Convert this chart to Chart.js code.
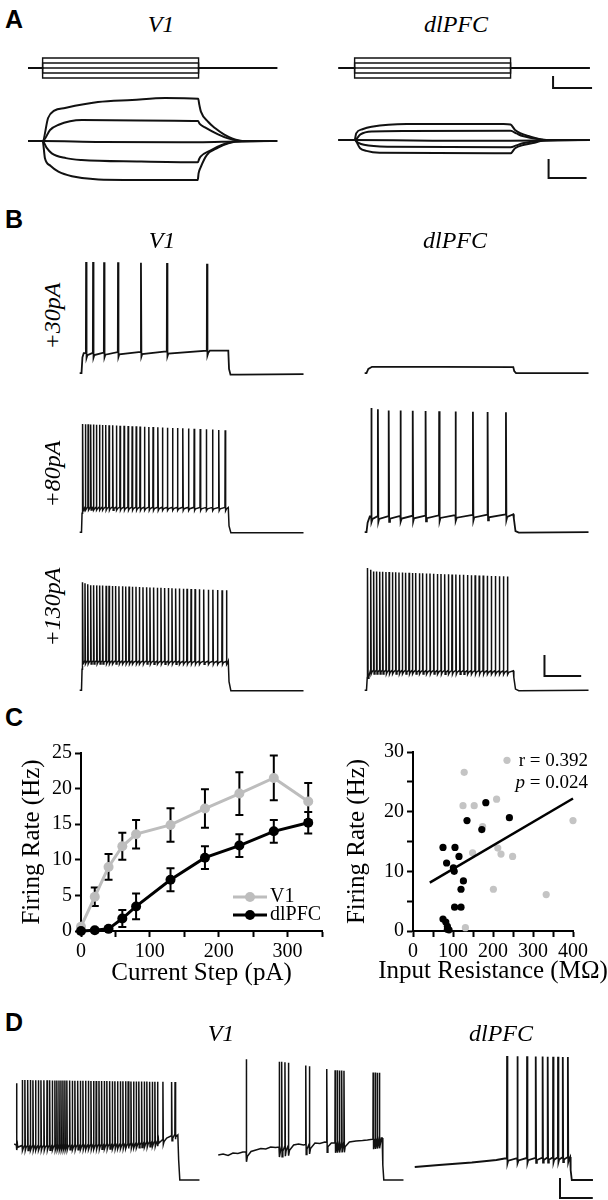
<!DOCTYPE html>
<html>
<head>
<meta charset="utf-8">
<script src="https://cdn.jsdelivr.net/npm/chart.js@4.4.1/dist/chart.umd.min.js"></script>
<style>
  body { margin: 0; background: #fff; width: 608px; height: 1200px; position: relative; overflow: hidden; }
  canvas { position: absolute; }
  .lbl { position: absolute; white-space: nowrap; line-height: 1; color: #000; font-family: "Liberation Serif", "Times New Roman", serif; transform: translate(-50%, -50%); }
  .panel { font-family: "Liberation Sans", Arial, sans-serif; font-weight: bold; font-size: 25px; transform: none; }
  .title { font-style: italic; font-size: 24px; }
  .row { font-style: italic; font-size: 24px; transform: translate(-50%, -50%) rotate(-90deg); }
</style>
</head>
<body>

<canvas id="aV1" width="270" height="150" style="left:20px;top:50px"></canvas>
<canvas id="aDl" width="270" height="150" style="left:332px;top:50px"></canvas>

<canvas id="bV1_30" width="245" height="160" style="left:70px;top:223px"></canvas>
<canvas id="bDl_30" width="245" height="160" style="left:355px;top:223px"></canvas>
<canvas id="bV1_80" width="245" height="160" style="left:70px;top:382px"></canvas>
<canvas id="bDl_80" width="245" height="160" style="left:355px;top:382px"></canvas>
<canvas id="bV1_130" width="245" height="160" style="left:70px;top:540px"></canvas>
<canvas id="bDl_130" width="245" height="160" style="left:355px;top:540px"></canvas>

<canvas id="cRate" width="345" height="252" style="left:0px;top:738px"></canvas>
<canvas id="cScatter" width="268" height="253" style="left:340px;top:737px"></canvas>

<canvas id="dV1a" width="200" height="160" style="left:8px;top:1040px"></canvas>
<canvas id="dV1b" width="200" height="160" style="left:212px;top:1040px"></canvas>
<canvas id="dDl" width="200" height="160" style="left:400px;top:1040px"></canvas>

<div class="lbl panel" style="left:5px;top:7px">A</div>
<div class="lbl title" style="left:161px;top:24px">V1</div>
<div class="lbl title" style="left:456px;top:24px">dlPFC</div>

<div class="lbl panel" style="left:5px;top:207px">B</div>
<div class="lbl title" style="left:162px;top:240px">V1</div>
<div class="lbl title" style="left:455px;top:240px">dlPFC</div>
<div class="lbl row" style="left:52px;top:316px">+30pA</div>
<div class="lbl row" style="left:52px;top:474px">+80pA</div>
<div class="lbl row" style="left:52px;top:607px">+130pA</div>

<div class="lbl panel" style="left:5px;top:705px">C</div>

<div class="lbl panel" style="left:5px;top:1010px">D</div>
<div class="lbl title" style="left:221px;top:1033px">V1</div>
<div class="lbl title" style="left:501px;top:1033px">dlPFC</div>

<script>
// ---------- Panel A: current steps (pA) and voltage responses (ms, mV) ----------
const aStepLevels = [20, 10, 0, -10, -20];
const aStepOn = 0;
const aStepOff = 800;
const aV1Span = [-75, 1203];
const aDlSpan = [-82, 1205];

const aV1Top = [[-75,-70],[0,-70],[28,-57.9],[60,-54],[115,-52.6],[284,-49.5],[459,-48.4],[629,-47.4],[798,-47.8],[804,-51],[812,-54.5],[850,-60],[884,-63.2],[930,-66.5],[972,-68.6],[1038,-70],[1203,-70]];
const aV1Up = [[-75,-70],[0,-70],[38,-64.2],[79,-61.6],[202,-59],[500,-59.2],[797,-59.5],[806,-61],[833,-62.8],[900,-66.5],[951,-68.6],[1030,-70],[1203,-70]];
const aV1Zero = [[-75,-70],[0,-70],[300,-70.5],[800,-70.6],[1000,-70.2],[1203,-70]];
const aV1Down = [[-75,-70],[0,-70],[20,-73.5],[47,-76.5],[120,-79],[200,-80],[500,-80.8],[796,-81.2],[803,-79.5],[810,-78.2],[860,-75],[919,-72.1],[987,-70.3],[1203,-70]];
const aV1Bottom = [[-75,-70],[0,-70],[12,-79.1],[40,-83],[81,-86.1],[150,-88.5],[286,-90.2],[600,-90.5],[796,-90.5],[800,-87],[810,-84],[842,-77.4],[900,-73.5],[953,-71.2],[1021,-70],[1203,-70]];

const aDlTop = [[-82,-69.5],[0,-69.5],[8,-66],[40,-63.8],[87,-62.5],[267,-61],[764,-61],[800,-61.3],[823,-64.2],[903,-67.7],[982,-69.5],[1205,-69.5]];
const aDlUp = [[-82,-69.5],[0,-69.5],[30,-66.5],[87,-65],[267,-64.7],[800,-64.6],[830,-66],[862,-67.4],[962,-69.2],[1000,-69.5],[1205,-69.5]];
const aDlZero = [[-82,-69.5],[0,-69.5],[400,-69.8],[800,-69.8],[1205,-69.5]];
const aDlDown = [[-82,-69.5],[0,-69.5],[20,-71],[48,-72],[167,-73],[800,-73.3],[830,-72.3],[862,-71.2],[962,-69.8],[1205,-69.5]];
const aDlBottom = [[-82,-69.5],[0,-69.5],[28,-73.8],[60,-75.2],[128,-76.2],[800,-76.5],[823,-73.8],[870,-72],[923,-70.9],[982,-69.5],[1205,-69.5]];

const aBarI = [[1018,-16],[1018,-40],[1218,-40]];
const aBarV = [[995,-79.5],[995,-89.5],[1190,-89.5]];

// ---------- Panel B: firing to +30, +80, +130 pA steps ----------
const bV1_30_knots = [[-10,-70],[0,-70],[5,-55],[12,-51],[200,-50],[450,-49.5],[700,-48.5],[800,-48.5],[804,-66],[812,-71.5],[860,-71.5],[1210,-71]];
const bV1_30_spikes = [25, 63, 123, 199, 324, 466, 684];
const bV1_30_peaks = [[0,36],[800,34]];

const bV1_80_knots = [[-10,-70],[0,-70],[3,-52],[7,-46],[800,-46.5],[804,-64],[814,-70.5],[1210,-70.5]];
const bV1_80_spikes = [6.5, 21, 36, 50, 65, 81, 98, 114, 132, 150, 170, 190, 210, 232, 254, 276, 298, 319, 343, 367, 390, 416, 441, 468, 496, 523, 552, 583, 614, 647, 680, 714, 748, 783];
const bV1_80_peaks = [[0,33],[400,30],[800,27]];

const bV1_130_knots = [[-10,-70],[0,-70],[3,-50],[6,-42],[800,-42.5],[804,-62],[814,-70.5],[1210,-70.5]];
const bV1_130_spikes = [6, 19, 34, 50, 66, 83, 99, 115, 134, 150, 168, 186, 204, 223, 241, 259, 277, 297, 315, 335, 355, 373, 393, 413, 433, 453, 473, 493, 513, 533, 555, 575, 597, 619, 642, 666, 691, 716, 741, 766, 790];
const bV1_130_peaks = [[0,33],[50,30],[800,25]];

const bDl_30_knots = [[-10,-70],[0,-70],[10,-66],[30,-64],[400,-64],[800,-64.3],[805,-68],[815,-70],[1210,-70]];

const bDl_80_knots = [[-10,-70],[0,-70],[6,-61],[18,-55],[800,-53],[803,-57],[812,-69],[830,-70.5],[1210,-70]];
const bDl_80_spikes = [26, 62, 121, 185, 252, 322, 396, 485, 580, 660, 760];
const bDl_80_peaks = [[0,49],[100,46],[800,44]];

const bDl_130_knots = [[-10,-70],[0,-70],[4,-58],[9,-51],[800,-51.5],[803,-58],[812,-69],[830,-70.5],[1210,-70]];
const bDl_130_spikes = [6, 23, 39, 55, 72, 88, 106, 123, 141, 159, 177, 195, 213, 232, 250, 268, 288, 306, 326, 346, 366, 386, 406, 426, 446, 466, 487, 508, 529, 550, 571, 592, 614, 636, 658, 680, 702, 724, 746, 768];
const bDl_130_peaks = [[0,47],[40,43],[800,38]];

const bBar = [[970,-36.5],[970,-56.5],[1170,-56.5]];

// ---------- Panel C ----------
const steps = [0, 20, 40, 60, 80, 130, 180, 230, 280, 330];
const rateV1 = [0.6, 4.8, 9.0, 11.9, 13.6, 14.9, 17.2, 19.3, 21.5, 18.2];
const errV1 = [0, 1.3, 1.8, 1.9, 2.0, 2.35, 2.7, 3.0, 3.15, 2.6];
const rateDl = [0, 0.1, 0.3, 1.75, 3.45, 7.2, 10.3, 12.0, 14.0, 15.2];
const errDl = [0, 0, 0.2, 1.2, 1.8, 1.6, 1.6, 1.6, 1.6, 1.5];

const resV1 = [235, 128, 125, 153, 209, 174, 149, 212, 220, 249, 201, 333, 400, 131];
const fireV1 = [28.6, 26.6, 21.0, 21.0, 22.1, 17.5, 13.1, 13.9, 12.9, 12.5, 7.0, 6.1, 18.5, 0.55];
const resDl = [182, 135, 241, 172, 75, 105, 84, 101, 103, 115, 126, 120, 104, 120, 75, 82, 86, 86, 90];
const fireDl = [21.5, 18.5, 19.0, 17.0, 14.0, 14.0, 11.4, 10.6, 10.0, 12.5, 8.4, 7.0, 4.0, 4.0, 2.0, 1.5, 0.8, 0.3, 0.2];
const fitX = [42, 400];
const fitY = [8.1, 22.2];

// ---------- Panel D ----------
const dV1a_knots = [[0,-34],[20,-35.5],[300,-35],[700,-33.5],[880,-31],[930,-28],[985,-24],[998,-25],[1003,-50],[1010,-70],[1130,-70]];
const dV1a_spikes = [14, 49, 65, 82, 98, 114, 130, 147, 163, 181, 200, 216, 232, 248, 260, 273, 285, 297, 309, 321, 338, 354, 370, 387, 403, 419, 435, 452, 468, 484, 500, 517, 533, 549, 565, 582, 598, 614, 630, 647, 663, 679, 695, 712, 728, 744, 760, 777, 793, 809, 826, 842, 858, 874, 907, 960, 981];
const dV1a_peaks = [[0,25],[40,30],[1000,28]];

const dV1b_knots = [[0,-45],[30,-44],[60,-45.5],[90,-43],[120,-43.5],[150,-42],[200,-41.5],[230,-40],[260,-38.5],[290,-39],[320,-37],[350,-37.5],[460,-35],[490,-34],[520,-35],[590,-33],[620,-33.5],[650,-32],[690,-33],[800,-32],[840,-31],[880,-30.5],[910,-30],[995,-28],[1000,-28],[1004,-55],[1010,-70],[1130,-70]];
const dV1b_spikes = [171, 372, 387, 407, 428, 534, 556, 662, 713, 726, 739, 753, 767, 945, 958, 970, 983];
const dV1b_peaks = [[0,53],[400,48],[700,40],[1000,37]];

const dDl_knots = [[52,-57],[200,-55],[400,-52.5],[550,-50],[600,-48.5],[1000,-47],[1003,-60],[1010,-70],[1139,-70]];
const dDl_spikes = [615, 678, 737, 790, 832, 863, 896, 926, 955, 986];
const dDl_peaks = [[600,54],[1000,53]];

const dBar = [[938,-68],[938,-88],[1138,-88]];

// ---------- helpers ----------
const ink = '#111';
const serif = '"Liberation Serif", "Times New Roman", serif';

function pts(arr) {
  return arr.map(([x, y]) => ({x, y}));
}

function lookup(knots, t) {
  if (t <= knots[0][0]) return knots[0][1];
  for (let i = 1; i < knots.length; i++) {
    if (t <= knots[i][0]) {
      const [t0, v0] = knots[i - 1], [t1, v1] = knots[i];
      return v0 + (v1 - v0) * (t - t0) / (t1 - t0);
    }
  }
  return knots[knots.length - 1][1];
}

// subthreshold path + spikes on top of it
function buildTrace(knots, spikes = [], peaks = [[0, 0]], ahp = 0) {
  const out = [];
  knots.forEach(([t, v]) => {
    if (!spikes.some(s => t > s - 1.5 && t < s + 4)) out.push({x: t, y: v});
  });
  spikes.forEach((s, i) => {
    const b = lookup(knots, s);
    out.push({x: s - 1.2, y: b}, {x: s, y: lookup(peaks, s)}, {x: s + 2.5, y: b - ahp});
    const next = spikes[i + 1];
    if (next === undefined || next - s > 14) out.push({x: s + 7, y: b - ahp * 0.45});
  });
  return out.sort((a, b) => a.x - b.x);
}

function stepTrace(level, span) {
  return pts([[span[0], 0], [aStepOn, 0], [aStepOn, level], [aStepOff, level], [aStepOff, 0], [span[1], 0]]);
}

function line(data, width, extra) {
  return Object.assign({data, borderColor: ink, borderWidth: width, pointRadius: 0, tension: 0, clip: false, fill: false}, extra || {});
}

function traceChart(id, datasets, scales) {
  return new Chart(document.getElementById(id), {
    type: 'line',
    data: {datasets},
    options: {
      responsive: false, animation: false, events: [],
      layout: {padding: 0},
      plugins: {legend: {display: false}, tooltip: {enabled: false}},
      scales
    }
  });
}

// ---------- draw panel A ----------
function panelA(id, span, curves, bars) {
  const ds = aStepLevels.map(l => line(stepTrace(l, span), 1.4, {yAxisID: 'yI'}));
  curves.forEach(c => ds.push(line(pts(c), 2, {yAxisID: 'yV', cubicInterpolationMode: 'monotone'})));
  if (bars) {
    ds.push(line(pts(aBarI), 2, {yAxisID: 'yI'}));
    ds.push(line(pts(aBarV), 2, {yAxisID: 'yV'}));
  }
  traceChart(id, ds, {
    x: {type: 'linear', display: false, min: -116, max: 1269},
    yI: {type: 'linear', display: false, min: -264, max: 36},
    yV: {type: 'linear', display: false, min: -101.05, max: -22.1}
  });
}
panelA('aV1', aV1Span, [aV1Top, aV1Up, aV1Zero, aV1Down, aV1Bottom], false);
panelA('aDl', aDlSpan, [aDlTop, aDlUp, aDlZero, aDlDown, aDlBottom], true);

// ---------- draw panel B ----------
const bScales = {
  x: {type: 'linear', display: false, min: -62.7, max: 1272.6},
  y: {type: 'linear', display: false, min: -79.4, max: 73}
};
traceChart('bV1_30', [line(buildTrace(bV1_30_knots, bV1_30_spikes, bV1_30_peaks, 4.5), 1.8)], bScales);
traceChart('bV1_80', [line(buildTrace(bV1_80_knots, bV1_80_spikes, bV1_80_peaks, 3), 1.5)], bScales);
traceChart('bV1_130', [line(buildTrace(bV1_130_knots, bV1_130_spikes, bV1_130_peaks, 3), 1.5)], bScales);
traceChart('bDl_30', [line(buildTrace(bDl_30_knots), 1.8)], bScales);
traceChart('bDl_80', [line(buildTrace(bDl_80_knots, bDl_80_spikes, bDl_80_peaks, 5.5), 1.8)], bScales);
traceChart('bDl_130', [line(buildTrace(bDl_130_knots, bDl_130_spikes, bDl_130_peaks, 3.5), 1.5),
                       line(pts(bBar), 2)], bScales);

// ---------- draw panel C ----------
const errorBars = {
  id: 'errorBars',
  beforeDatasetsDraw(chart) {
    const {ctx, scales: {x, y}} = chart;
    chart.data.datasets.forEach(ds => {
      if (!ds.errors) return;
      ctx.save();
      ctx.strokeStyle = '#000';
      ctx.lineWidth = 2;
      ds.data.forEach((p, i) => {
        const e = ds.errors[i];
        if (!e) return;
        const px = x.getPixelForValue(p.x);
        const top = y.getPixelForValue(p.y + e);
        const bot = y.getPixelForValue(p.y - e);
        ctx.beginPath();
        ctx.moveTo(px, top); ctx.lineTo(px, bot);
        ctx.moveTo(px - 4, top); ctx.lineTo(px + 4, top);
        ctx.moveTo(px - 4, bot); ctx.lineTo(px + 4, bot);
        ctx.stroke();
      });
      ctx.restore();
    });
  }
};

const legendBox = {
  id: 'legendBox',
  afterDatasetsDraw(chart, args, opts) {
    const {ctx, chartArea: a} = chart;
    chart.data.datasets.forEach((ds, i) => {
      const y = a.bottom - opts.rows[i];
      const x0 = a.right - 89, x1 = a.right - 55;
      ctx.save();
      ctx.strokeStyle = ds.borderColor;
      ctx.lineWidth = ds.borderWidth;
      ctx.beginPath(); ctx.moveTo(x0, y); ctx.lineTo(x1, y); ctx.stroke();
      ctx.fillStyle = ds.borderColor;
      ctx.beginPath(); ctx.arc((x0 + x1) / 2, y, 5, 0, Math.PI * 2); ctx.fill();
      ctx.fillStyle = '#000';
      ctx.font = '20px ' + serif;
      ctx.textBaseline = 'middle';
      ctx.fillText(ds.label, x1 + 3, y);
      ctx.restore();
    });
  }
};

const statText = {
  id: 'statText',
  afterDraw(chart) {
    const {ctx, chartArea: a} = chart;
    const right = a.right + 15;
    ctx.save();
    ctx.fillStyle = '#000';
    ctx.textBaseline = 'middle';
    ctx.textAlign = 'right';
    ctx.font = '19px ' + serif;
    ctx.fillText('r = 0.392', right, a.top + 9);
    const rest = ' = 0.024';
    const w = ctx.measureText(rest).width;
    ctx.fillText(rest, right, a.top + 31);
    ctx.font = 'italic 19px ' + serif;
    ctx.fillText('p', right - w, a.top + 31);
    // x-axis title, wider than the plot so drawn here without squeezing
    ctx.textAlign = 'center';
    ctx.font = '25px ' + serif;
    ctx.fillText('Input Resistance (MΩ)', (a.left + a.right) / 2, chart.height - 19);
    ctx.restore();
  }
};

const axisLook = {
  grid: {drawOnChartArea: false, drawTicks: true, tickLength: 6, tickWidth: 2, tickColor: '#000', color: '#000'},
  border: {display: true, color: '#000', width: 2}
};
const tickFont = {family: serif, size: 20};
const titleFont = {family: serif, size: 25};

new Chart(document.getElementById('cRate'), {
  type: 'line',
  data: {
    datasets: [
      {label: 'V1', data: steps.map((s, i) => ({x: s, y: rateV1[i]})), errors: errV1,
       borderColor: '#bdbdbd', backgroundColor: '#bdbdbd', pointBackgroundColor: '#bdbdbd',
       borderWidth: 3, pointRadius: 5, pointBorderWidth: 0, order: 2, clip: false},
      {label: 'dlPFC', data: steps.map((s, i) => ({x: s, y: rateDl[i]})), errors: errDl,
       borderColor: '#000', backgroundColor: '#000', pointBackgroundColor: '#000',
       borderWidth: 3, pointRadius: 5, pointBorderWidth: 0, order: 1, clip: false}
    ]
  },
  options: {
    responsive: false, animation: false, events: [],
    layout: {padding: {left: 0, right: 23, top: 12, bottom: 0}},
    plugins: {legend: {display: false}, tooltip: {enabled: false}, legendBox: {rows: [34, 16]}},
    scales: {
      x: Object.assign({
        type: 'linear', min: 0, max: 350,
        ticks: {stepSize: 50, autoSkip: false, maxRotation: 0, color: '#000', font: tickFont,
                callback: v => (v % 100 === 0 ? String(v) : '')},
        title: {display: true, text: 'Current Step (pA)', color: '#000', font: titleFont, padding: {top: 0, bottom: 2}},
        afterFit: s => { s.height = 59; }
      }, axisLook),
      y: Object.assign({
        type: 'linear', min: 0, max: 25,
        ticks: {stepSize: 5, color: '#000', font: tickFont},
        title: {display: true, text: 'Firing Rate (Hz)', color: '#000', font: titleFont, padding: {top: 17, bottom: 0}},
        afterFit: s => { s.width = 81; }
      }, axisLook)
    }
  },
  plugins: [errorBars, legendBox]
});

new Chart(document.getElementById('cScatter'), {
  type: 'scatter',
  data: {
    datasets: [
      {label: 'fit', data: fitX.map((x, i) => ({x, y: fitY[i]})), showLine: true,
       borderColor: '#000', borderWidth: 2.5, pointRadius: 0, order: 0, clip: false},
      {label: 'dlPFC', data: resDl.map((x, i) => ({x, y: fireDl[i]})),
       backgroundColor: '#000', borderWidth: 0, pointRadius: 3.6, order: 1, clip: false},
      {label: 'V1', data: resV1.map((x, i) => ({x, y: fireV1[i]})),
       backgroundColor: '#c4c4c4', borderWidth: 0, pointRadius: 3.6, order: 2, clip: false}
    ]
  },
  options: {
    responsive: false, animation: false, events: [],
    layout: {padding: {left: 0, right: 35, top: 12, bottom: 0}},
    plugins: {legend: {display: false}, tooltip: {enabled: false}},
    scales: {
      x: Object.assign({
        type: 'linear', min: 0, max: 400,
        ticks: {stepSize: 50, autoSkip: false, maxRotation: 0, color: '#000', font: tickFont,
                callback: v => (v % 100 === 0 ? String(v) : '')},
        afterFit: s => { s.height = 59; }
      }, axisLook),
      y: Object.assign({
        type: 'linear', min: 0, max: 30,
        ticks: {stepSize: 5, color: '#000', font: tickFont,
                callback: v => (v % 10 === 0 ? String(v) : '')},
        title: {display: true, text: 'Firing Rate (Hz)', color: '#000', font: titleFont, padding: {top: 2, bottom: 0}},
        afterFit: s => { s.width = 73; }
      }, axisLook)
    }
  },
  plugins: [statText]
});

// ---------- draw panel D ----------
const dScales = {
  x: {type: 'linear', display: false, min: -38, max: 1182},
  y: {type: 'linear', display: false, min: -90, max: 70}
};
traceChart('dV1a', [line(buildTrace(dV1a_knots, dV1a_spikes, dV1a_peaks, 5), 1.5)], dScales);
traceChart('dV1b', [line(buildTrace(dV1b_knots, dV1b_spikes, dV1b_peaks, 10), 1.5)], dScales);
traceChart('dDl', [line(buildTrace(dDl_knots, dDl_spikes, dDl_peaks, 5), 1.8),
                   line(pts(dBar), 2)], dScales);
</script>
</body>
</html>
